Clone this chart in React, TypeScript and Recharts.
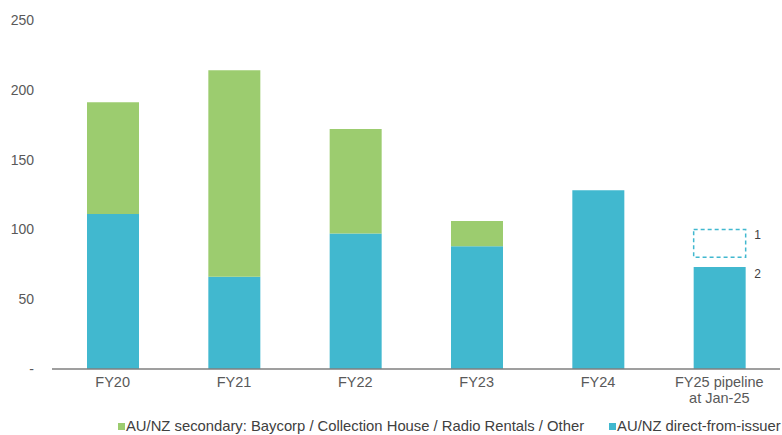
import { Bar, BarChart, LabelList, XAxis, YAxis } from 'recharts';

const categories = ['FY20', 'FY21', 'FY22', 'FY23', 'FY24', 'FY25 pipeline\nat Jan-25'];
const directFromIssuer = [111, 66, 97, 88, 128, 73];
const secondary = [80, 148, 75, 18, null, null];
// FY25 pipeline: space between settled volume and the pipeline range, then the range itself
const pipelineGap = [null, null, null, null, null, 7];
const pipelineRange = [null, null, null, null, null, 20];
const directNotes = ['', '', '', '', '', '2'];
const pipelineNotes = ['', '', '', '', '', '1'];
const yTicks = [0, 50, 100, 150, 200, 250];

const BLUE = '#41b8cf';
const GREEN = '#9ccc6f';
const TEXT = '#595959';
const FONT = '"Liberation Sans", Arial, sans-serif';

const data = categories.map((name, i) => ({
  name,
  direct: directFromIssuer[i],
  secondary: secondary[i],
  gap: pipelineGap[i],
  pipeline: pipelineRange[i],
  directNote: directNotes[i],
  pipelineNote: pipelineNotes[i],
}));

function CategoryTick({ x, y, payload }: any) {
  const lines = String(payload.value).split('\n');
  return (
    <text x={x} y={y} textAnchor="middle" fill={TEXT} fontSize={14.5} fontFamily={FONT}>
      {lines.map((line, i) => (
        <tspan key={i} x={x} dy={i === 0 ? 10 : 16}>
          {line}
        </tspan>
      ))}
    </text>
  );
}

function noteLabel(dy: number) {
  return (props: any) => {
    if (!props.value) return null;
    return (
      <text
        x={props.x + props.width + 12}
        y={props.y + dy}
        fill="#404040"
        fontSize={12}
        fontFamily={FONT}
        textAnchor="middle"
        dominantBaseline="central"
      >
        {props.value}
      </text>
    );
  };
}

function LegendRow() {
  const item = (color: string, label: string) => (
    <span style={{ display: 'inline-flex', alignItems: 'center', whiteSpace: 'nowrap' }}>
      <span style={{ width: 7, height: 7, background: color, marginRight: 1, display: 'inline-block' }} />
      {label}
    </span>
  );
  return (
    <div
      style={{
        position: 'absolute',
        left: 118,
        top: 418,
        display: 'flex',
        gap: 25,
        fontFamily: FONT,
        fontSize: 14.8,
        lineHeight: '17px',
        color: '#404040',
        whiteSpace: 'nowrap',
      }}
    >
      {item(GREEN, 'AU/NZ secondary: Baycorp / Collection House / Radio Rentals / Other')}
      {item(BLUE, 'AU/NZ direct-from-issuer')}
    </div>
  );
}

export default function App() {
  return (
    <div
      style={{
        position: 'absolute',
        left: 0,
        top: 0,
        width: 782,
        height: 435,
        overflow: 'hidden',
        background: '#fff',
      }}
    >
      <BarChart
        width={782}
        height={435}
        data={data}
        margin={{ top: 20, right: 2, bottom: 26, left: 0 }}
        barSize={52}
      >
        <XAxis
          dataKey="name"
          height={40}
          interval={0}
          tickLine={false}
          axisLine={{ stroke: '#7f7f7f', strokeWidth: 1.5 }}
          tick={<CategoryTick />}
        />
        <YAxis
          width={52}
          domain={[0, 250]}
          ticks={yTicks}
          axisLine={false}
          tickLine={false}
          tickSize={0}
          tickMargin={18}
          tickFormatter={(v: number) => (v === 0 ? '-' : String(v))}
          tick={{ fill: TEXT, fontSize: 14, fontFamily: FONT }}
        />
        <Bar dataKey="direct" stackId="a" fill={BLUE} isAnimationActive={false}>
          <LabelList dataKey="directNote" content={noteLabel(7)} />
        </Bar>
        <Bar dataKey="secondary" stackId="a" fill={GREEN} isAnimationActive={false} />
        <Bar dataKey="gap" stackId="a" fill="transparent" isAnimationActive={false} />
        <Bar
          dataKey="pipeline"
          stackId="a"
          fill="#ffffff"
          stroke={BLUE}
          strokeWidth={1.5}
          strokeDasharray="4 3"
          isAnimationActive={false}
        >
          <LabelList dataKey="pipelineNote" content={noteLabel(6)} />
        </Bar>
      </BarChart>
      <LegendRow />
    </div>
  );
}
